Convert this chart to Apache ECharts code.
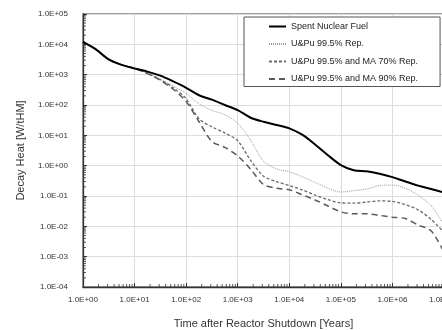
<!DOCTYPE html>
<html>
<head>
<meta charset="utf-8">
<script src="https://cdn.jsdelivr.net/npm/echarts@6/dist/echarts.min.js"></script>
<style>
  html, body { margin: 0; padding: 0; background: #fff; }
  #chart { width: 442px; height: 330px; }
</style>
</head>
<body>
<div id="chart"></div>
<script>
// Time after shutdown, years (quarter-decade steps)
const years = [1, 1.78, 3.16, 5.62, 10, 17.8, 31.6, 56.2, 100, 178, 316, 562,
  1e3, 1.78e3, 3.16e3, 5.62e3, 1e4, 1.78e4, 3.16e4, 5.62e4,
  1e5, 1.78e5, 3.16e5, 5.62e5, 1e6, 1.78e6, 3.16e6, 5.62e6, 1e7];

// Decay heat, W/tHM
const spentFuel = [1.2e4, 6.8e3, 3.2e3, 2.1e3, 1.6e3, 1.26e3, 9.3e2, 6.0e2, 3.7e2, 2.1e2, 1.5e2, 1.0e2,
  68, 38, 28, 22, 17, 10.5, 5.0, 2.2,
  1.05, 0.71, 0.65, 0.54, 0.42, 0.30, 0.22, 0.17, 0.13];
const upu995 = [1.2e4, 6.8e3, 3.2e3, 2.1e3, 1.6e3, 1.12e3, 7.2e2, 4.2e2, 2.4e2, 1.1e2, 66, 48,
  25, 6.9, 1.4, 0.79, 0.63, 0.43, 0.28, 0.18,
  0.135, 0.15, 0.17, 0.22, 0.23, 0.18, 0.105, 0.048, 0.011];
const upuMa70 = [1.2e4, 6.8e3, 3.2e3, 2.1e3, 1.6e3, 1.10e3, 6.8e2, 3.7e2, 1.6e2, 35, 19, 12,
  6.6, 1.5, 0.45, 0.30, 0.22, 0.16, 0.107, 0.076,
  0.059, 0.058, 0.063, 0.069, 0.066, 0.052, 0.035, 0.017, 0.0063];
const upuMa90 = [1.2e4, 6.8e3, 3.2e3, 2.1e3, 1.6e3, 1.08e3, 6.5e2, 3.3e2, 1.3e2, 28, 6.3, 4.0,
  2.1, 0.76, 0.24, 0.18, 0.16, 0.11, 0.074, 0.047,
  0.030, 0.026, 0.026, 0.023, 0.020, 0.018, 0.011, 0.0071, 0.0014];

const seriesNames = ['Spent Nuclear Fuel', 'U&Pu 99.5% Rep.', 'U&Pu 99.5% and MA 70% Rep.', 'U&Pu 99.5% and MA 90% Rep.'];

// Minor tick positions on the log axes
const minorSteps = [2, 3, 4, 5, 6, 7, 8, 9];
const xDecades = [1, 10, 100, 1e3, 1e4, 1e5, 1e6];
const yDecades = [1e-4, 1e-3, 1e-2, 1e-1, 1, 10, 100, 1e3, 1e4];

const X_MIN = 1, X_MAX = 1e7, Y_MIN = 1e-4, Y_MAX = 1e5;

const pair = (vals) => years.map((t, i) => [t, vals[i]]);

const xMinor = [];
xDecades.forEach(d => minorSteps.forEach(m => xMinor.push([d * m, Y_MIN])));
const yMinor = [];
yDecades.forEach(d => minorSteps.forEach(m => yMinor.push([X_MIN, d * m])));

const font = "'Liberation Sans', Arial, sans-serif";

function sci(v) {
  const e = Math.round(Math.log10(v));
  const a = Math.abs(e);
  return '1.0E' + (e < 0 ? '-' : '+') + (a < 10 ? '0' : '') + a;
}

function lineSeries(name, vals, color, width, type, z) {
  return {
    name, type: 'line', data: pair(vals),
    smooth: 0.3,
    symbol: 'none', z,
    lineStyle: { color, width, type },
    itemStyle: { color }
  };
}

const chart = echarts.init(document.getElementById('chart'), null, { renderer: 'canvas' });

chart.setOption({
  animation: false,
  backgroundColor: '#fff',
  grid: {
    left: 83, top: 14, width: 361, height: 273,
    outerBoundsMode: 'none', containLabel: false,
    show: true, borderColor: '#808080', borderWidth: 1.5, backgroundColor: 'transparent'
  },
  legend: {
    data: seriesNames,
    orient: 'vertical',
    left: 244, top: 17,
    itemWidth: 17, itemHeight: 10, itemGap: 8.5,
    padding: [5, 22, 3, 24],
    backgroundColor: '#fff',
    borderColor: '#555', borderWidth: 1,
    itemStyle: { opacity: 0 },
    textStyle: { fontFamily: font, fontSize: 9, color: '#222' }
  },
  xAxis: {
    type: 'log', logBase: 10, min: X_MIN, max: X_MAX, splitNumber: 7,
    name: 'Time after Reactor Shutdown [Years]',
    nameLocation: 'middle', nameGap: 31,
    nameTextStyle: { fontFamily: font, fontSize: 11, color: '#333' },
    axisLine: { lineStyle: { color: '#333', width: 1.3 } },
    axisTick: { show: true, inside: true, length: 4, lineStyle: { color: '#333' } },
    axisLabel: { fontFamily: font, fontSize: 8, color: '#333', margin: 9, formatter: sci, showMaxLabel: true },
    splitLine: { show: true, lineStyle: { color: '#dcdcdc', width: 1 } }
  },
  yAxis: {
    type: 'log', logBase: 10, min: Y_MIN, max: Y_MAX, splitNumber: 9,
    name: 'Decay Heat [W/tHM]',
    nameLocation: 'middle', nameGap: 57,
    nameTextStyle: { fontFamily: font, fontSize: 11, color: '#333' },
    axisLine: { lineStyle: { color: '#333', width: 1.3 } },
    axisTick: { show: true, inside: true, length: 4, lineStyle: { color: '#333' } },
    axisLabel: { fontFamily: font, fontSize: 8, color: '#333', margin: 15, formatter: sci },
    splitLine: { show: true, lineStyle: { color: '#dcdcdc', width: 1 } }
  },
  series: [
    lineSeries(seriesNames[0], spentFuel, '#000', 2, 'solid', 5),
    lineSeries(seriesNames[1], upu995, '#9a9a9a', 1, [1, 1], 4),
    lineSeries(seriesNames[2], upuMa70, '#6a6a6a', 1.3, [3, 2], 4),
    lineSeries(seriesNames[3], upuMa90, '#5a5a5a', 1.5, [6, 4], 4),
    {
      type: 'scatter', data: xMinor, symbol: 'rect', symbolSize: [1, 3],
      symbolOffset: [0, -1.5], clip: false, silent: true, z: 6,
      itemStyle: { color: '#333' }
    },
    {
      type: 'scatter', data: yMinor, symbol: 'rect', symbolSize: [3, 1],
      symbolOffset: [1.5, 0], clip: false, silent: true, z: 6,
      itemStyle: { color: '#333' }
    }
  ]
});
</script>
</body>
</html>
